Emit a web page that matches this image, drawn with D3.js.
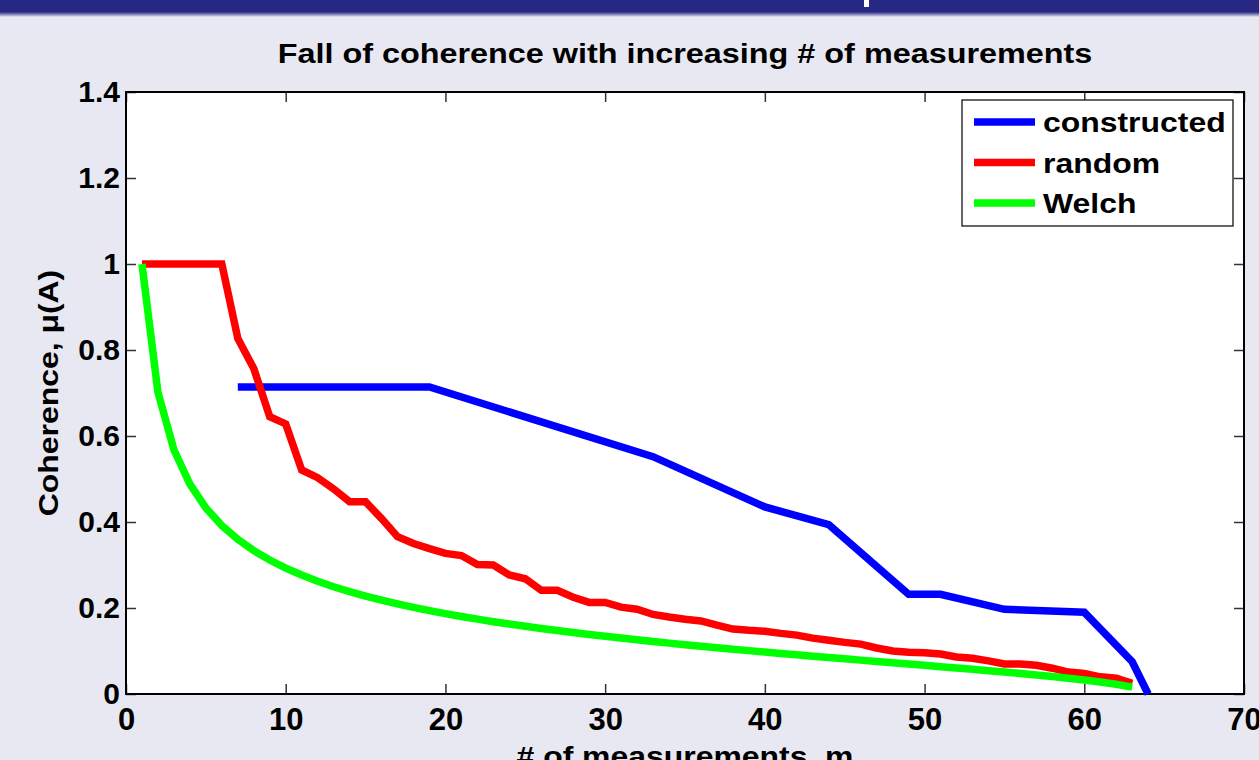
<html>
<head>
<script src="https://cdnjs.cloudflare.com/ajax/libs/d3/7.8.5/d3.min.js"></script>
<style>
  body {margin: 0; background: #e8e8f2; overflow: hidden;}
  text {font-family: "Liberation Sans", Arial, sans-serif; font-weight: bold; fill: #000;}
</style>
</head>
<body>
<svg width="1259" height="760"></svg>
<script>
// data
var seriesNames = ["constructed", "random", "Welch"];
var seriesColors = ["#0000ff", "#ff0000", "#00ff00"];

var constructedM = [7, 19, 33, 40, 44, 49, 51, 55, 60, 63, 64];
var constructedMu = [0.714, 0.714, 0.552, 0.435, 0.394, 0.232, 0.232, 0.197, 0.19, 0.075, 0];

var randomM = [1, 2, 3, 4, 5, 6, 7, 8, 9, 10, 11, 12, 13, 14, 15, 16, 17, 18, 19, 20,
  21, 22, 23, 24, 25, 26, 27, 28, 29, 30, 31, 32, 33, 34, 35, 36, 37, 38, 39, 40,
  41, 42, 43, 44, 45, 46, 47, 48, 49, 50, 51, 52, 53, 54, 55, 56, 57, 58, 59, 60,
  61, 62, 63];
var randomMu = [1, 1, 1, 1, 1, 1, 0.827, 0.757, 0.645, 0.628, 0.521, 0.503, 0.477, 0.447, 0.447,
  0.408, 0.366, 0.35, 0.338, 0.327, 0.322, 0.301, 0.3, 0.277, 0.268, 0.241, 0.241, 0.225,
  0.213, 0.213, 0.202, 0.197, 0.185, 0.179, 0.174, 0.17, 0.16, 0.151, 0.148, 0.146, 0.141,
  0.137, 0.13, 0.125, 0.12, 0.116, 0.107, 0.1, 0.097, 0.096, 0.093, 0.086, 0.083, 0.077,
  0.07, 0.07, 0.067, 0.06, 0.051, 0.048, 0.04, 0.037, 0.025];

var welchM = randomM;
var welchMu = [1, 0.7015, 0.5681, 0.488, 0.4328, 0.3917, 0.3595, 0.3333, 0.3115, 0.2928,
  0.2766, 0.2623, 0.2495, 0.2381, 0.2277, 0.2182, 0.2095, 0.2014, 0.1939, 0.1869, 0.1803,
  0.1741, 0.1682, 0.1627, 0.1574, 0.1523, 0.1475, 0.1429, 0.1384, 0.1341, 0.13, 0.126,
  0.1221, 0.1183, 0.1147, 0.1111, 0.1076, 0.1042, 0.1009, 0.0976, 0.0944, 0.0912, 0.088,
  0.0849, 0.0819, 0.0788, 0.0758, 0.0727, 0.0697, 0.0667, 0.0636, 0.0605, 0.0574, 0.0542,
  0.051, 0.0476, 0.0442, 0.0405, 0.0367, 0.0325, 0.0279, 0.0226, 0.0159];

var xTicks = [0, 10, 20, 30, 40, 50, 60, 70];
var yTicks = [0, 0.2, 0.4, 0.6, 0.8, 1, 1.2, 1.4];
var yTickLabels = ["0", "0.2", "0.4", "0.6", "0.8", "1", "1.2", "1.4"];

var svg = d3.select("svg");
var stretch = 1.14;

// slide header bar
var grad = svg.append("defs").append("linearGradient").attr("id", "shade")
  .attr("x1", 0).attr("y1", 0).attr("x2", 0).attr("y2", 1);
grad.append("stop").attr("offset", "0%").attr("stop-color", "#272784");
grad.append("stop").attr("offset", "100%").attr("stop-color", "#e8e8f2");
svg.append("rect").attr("x", 0).attr("y", 0).attr("width", 1259).attr("height", 12).attr("fill", "#272784");
svg.append("rect").attr("x", 0).attr("y", 12).attr("width", 1259).attr("height", 5).attr("fill", "url(#shade)");
svg.append("rect").attr("x", 864).attr("y", 0).attr("width", 5).attr("height", 7).attr("fill", "#fff");

var plotL = 126, plotR = 1244, plotT = 92, plotB = 694;
var x = d3.scaleLinear().domain([0, 70]).range([plotL, plotR]);
var y = d3.scaleLinear().domain([0, 1.4]).range([plotB, plotT]);

svg.append("rect").attr("x", plotL).attr("y", plotT).attr("width", plotR - plotL).attr("height", plotB - plotT)
  .attr("fill", "#fff");

// inward ticks on all four sides
function tickStyle(g) {
  g.select(".domain").remove();
  g.selectAll(".tick line").attr("stroke", "#333").attr("stroke-width", 1.5);
}
svg.append("g").attr("transform", "translate(0," + plotB + ")")
  .call(d3.axisBottom(x).tickValues(xTicks).tickSize(-10).tickPadding(14).tickFormat(d3.format("d")))
  .call(tickStyle)
  .call(g => g.selectAll(".tick text").attr("font-size", 31).attr("dy", "0.71em"));
svg.append("g").attr("transform", "translate(0," + plotT + ")")
  .call(d3.axisTop(x).tickValues(xTicks).tickSize(-10).tickFormat(""))
  .call(tickStyle);
svg.append("g").attr("transform", "translate(" + plotL + ",0)")
  .call(d3.axisLeft(y).tickValues(yTicks).tickSize(-10).tickPadding(6).tickFormat((d, i) => yTickLabels[i]))
  .call(tickStyle)
  .call(g => g.selectAll(".tick text").attr("font-size", 30));
svg.append("g").attr("transform", "translate(" + plotR + ",0)")
  .call(d3.axisRight(y).tickValues(yTicks).tickSize(-10).tickFormat(""))
  .call(tickStyle);

svg.append("rect").attr("x", plotL).attr("y", plotT).attr("width", plotR - plotL).attr("height", plotB - plotT)
  .attr("fill", "none").attr("stroke", "#000").attr("stroke-width", 2);

// series
var line = d3.line().x(d => x(d[0])).y(d => y(d[1]));
var series = [
  d3.zip(constructedM, constructedMu),
  d3.zip(randomM, randomMu),
  d3.zip(welchM, welchMu)
];
svg.append("g").selectAll("path").data(series).enter().append("path")
  .attr("d", line)
  .attr("fill", "none")
  .attr("stroke", (d, i) => seriesColors[i])
  .attr("stroke-width", 7.5)
  .attr("stroke-linejoin", "miter");

// text helper: slightly widened glyphs like the original
function label(px, py, str, size, anchor, rot) {
  var g = svg.append("g").attr("transform", "translate(" + px + "," + py + ")" + (rot ? " rotate(" + rot + ")" : ""));
  g.append("text").attr("transform", "scale(" + stretch + ",1)")
    .attr("text-anchor", anchor).attr("font-size", size).text(str);
  return g;
}

label(685, 63, "Fall of coherence with increasing # of measurements", 28.4, "middle");
label(685, 766, "# of measurements, m", 28, "middle");
label(58, 393, "Coherence, \u03bc(A)", 28, "middle", -90);

// legend
var legend = svg.append("g");
legend.append("rect").attr("x", 962).attr("y", 100).attr("width", 271).attr("height", 126)
  .attr("fill", "#fff").attr("stroke", "#000").attr("stroke-width", 1.2);
seriesNames.forEach(function (name, i) {
  var ly = 122 + i * 40.5;
  legend.append("line").attr("x1", 974).attr("x2", 1035).attr("y1", ly).attr("y2", ly)
    .attr("stroke", seriesColors[i]).attr("stroke-width", 7.5);
  label(1043, ly + 10, name, 28, "start");
});
</script>
</body>
</html>
